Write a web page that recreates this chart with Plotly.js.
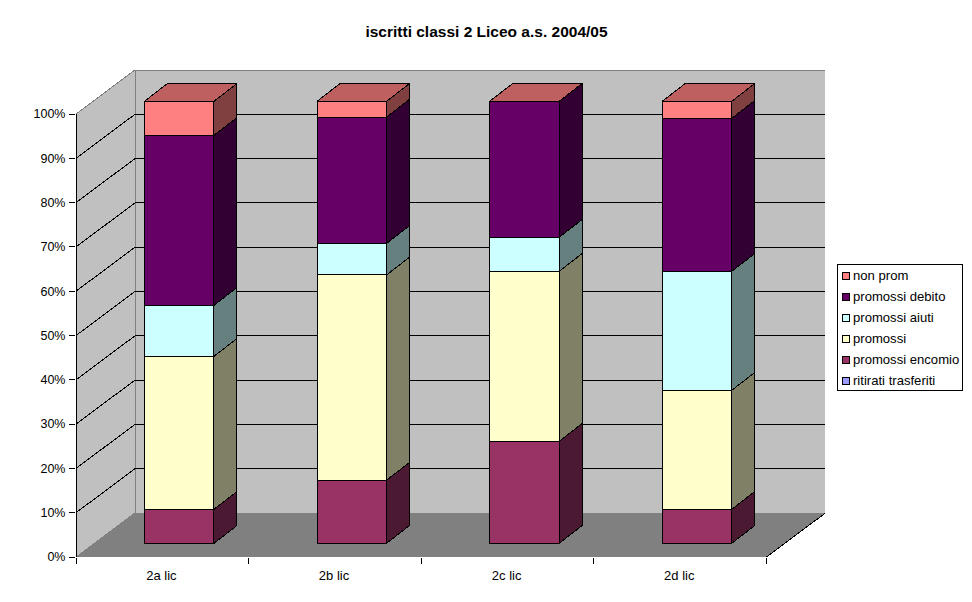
<!DOCTYPE html>
<html><head><meta charset="utf-8">
<script src="https://cdn.plot.ly/plotly-3.0.1.min.js"></script>
<style>html,body{margin:0;padding:0;background:#fff}
#chart .scatterlayer path,#chart .barlayer path,#chart .shapelayer path{shape-rendering:crispEdges}</style></head>
<body><div id="chart" style="width:972px;height:602px"></div>
<script>
const categories = ['2a lic','2b lic','2c lic','2d lic'];
const ritirati = [0,0,0,0];
const encomio  = [2,4,6,2];
const promossi = [9,13,10,7];
const aiuti    = [3,2,2,7];
const debito   = [10,8,8,9];
const nonProm  = [2,1,0,1];
const seriesNames = ['ritirati trasferiti','promossi encomio','promossi','promossi aiuti','promossi debito','non prom'];
const seriesValues = [ritirati,encomio,promossi,aiuti,debito,nonProm];
const frontColors = ['#9999FF','#993366','#FFFFCC','#CCFFFF','#660066','#FF8080'];
const sideColors  = ['#4C4C80','#4C1933','#808066','#668080','#330033','#804040'];
const topColor = '#BF6060';
const pctTicks = [0,10,20,30,40,50,60,70,80,90,100];

// layout frame in pixels
const L=76,T=70,R=825,B=557,W=R-L,H=B-T;
const ux=172.6, uy=4.43;                 // px per category / per percent
const wallDx=59/ux, wallDy=44/uy;        // oblique offset of the back wall
const barDx=23/ux, barDy=17.8/uy;        // oblique depth of a bar
const planeDx=0.098, planeDy=13.7/uy;    // plane of the bars' front faces
const barW=0.403, barScale=442/443;
const xMax=W/ux, yMax=H/uy;
const font='"Liberation Sans",Arial,sans-serif';
const px=x=>(x-L)/W, py=y=>1-(y-T)/H;

const totals=categories.map((_,i)=>seriesValues.reduce((s,v)=>s+v[i],0));
const traces=[];
let cum=categories.map(()=>0);
const pct=(v,i)=>v/totals[i]*100*barScale;
const lefts=categories.map((_,i)=>i+0.5+planeDx-barW/2);
const rights=lefts.map(v=>v+barW);

seriesValues.forEach((vals,s)=>{
  const base=cum.map(c=>c+planeDy);
  const hs=vals.map((v,i)=>pct(v,i));
  traces.push({type:'bar',name:seriesNames[s],x:categories.map((_,i)=>i+0.5+planeDx),y:hs,base:base,width:barW,
    marker:{color:frontColors[s],line:{color:'#000',width:vals.every(v=>v===0)?0:1}},showlegend:false,hoverinfo:'name+y'});
  // side faces
  const sx=[],sy=[];
  vals.forEach((v,i)=>{
    if(v===0) return;
    const r=rights[i],b=base[i],t=base[i]+hs[i];
    sx.push(r,r+barDx,r+barDx,r,r,null);
    sy.push(b,b+barDy,t+barDy,t,b,null);
  });
  traces.push({type:'scatter',mode:'lines',x:sx,y:sy,fill:'toself',fillcolor:sideColors[s],
    line:{color:'#000',width:1},showlegend:false,hoverinfo:'skip'});
  cum=cum.map((c,i)=>c+hs[i]);
});
// top faces
const tx=[],ty=[];
categories.forEach((_,i)=>{
  const l=lefts[i],r=rights[i],t=cum[i]+planeDy;
  tx.push(l,r,r+barDx,l+barDx,l,null);
  ty.push(t,t,t+barDy,t+barDy,t,null);
});
traces.push({type:'scatter',mode:'lines',x:tx,y:ty,fill:'toself',fillcolor:topColor,
  line:{color:'#000',width:1},showlegend:false,hoverinfo:'skip'});
// axis lines
traces.push({type:'scatter',mode:'lines',x:[0,0,null,0,categories.length],y:[0,100,null,0,0],cliponaxis:false,
  line:{color:'#000',width:1},showlegend:false,hoverinfo:'skip'});
// floor's right edge
traces.push({type:'scatter',mode:'lines',x:[categories.length,categories.length+wallDx],y:[0,wallDy],
  line:{color:'#000',width:1},showlegend:false,hoverinfo:'skip'});
// category label carrier
traces.push({type:'scatter',mode:'markers',x:[0.5],y:[0],xaxis:'x2',marker:{opacity:0},showlegend:false,hoverinfo:'skip'});

const n=categories.length;
const poly=p=>'M'+p.map(q=>q.join(' ')).join(' L')+' Z';
const shapes=[
  {type:'path',layer:'below',xref:'x',yref:'y',path:poly([[wallDx,wallDy],[n+wallDx,wallDy],[n+wallDx,100+wallDy],[wallDx,100+wallDy]]),fillcolor:'#C0C0C0',line:{color:'#808080',width:1}},
  {type:'path',layer:'below',xref:'x',yref:'y',path:poly([[0,0],[wallDx,wallDy],[wallDx,100+wallDy],[0,100]]),fillcolor:'#C0C0C0',line:{color:'#808080',width:1}},
  {type:'path',layer:'below',xref:'x',yref:'y',path:poly([[0,0],[wallDx,wallDy],[n+wallDx,wallDy],[n,0]]),fillcolor:'#808080',line:{color:'#808080',width:0}}
];
pctTicks.slice(1,-1).forEach(p=>{
  shapes.push({type:'line',layer:'below',xref:'x',yref:'y',x0:wallDx,x1:n+wallDx,y0:p+wallDy,y1:p+wallDy,line:{color:'#000',width:1}});
  shapes.push({type:'line',layer:'below',xref:'x',yref:'y',x0:0,x1:wallDx,y0:p,y1:p+wallDy,line:{color:'#000',width:1}});
});
// legend box
const legL=837.5,legT=264.5,legR=962.5,legB=390.5,rowH=21;
shapes.push({type:'rect',xref:'paper',yref:'paper',x0:px(legL),x1:px(legR),y0:py(legT),y1:py(legB),fillcolor:'#fff',line:{color:'#000',width:1}});
const annotations=[];
for(let k=0;k<seriesNames.length;k++){
  const s=seriesNames.length-1-k, cy=276+k*rowH;
  shapes.push({type:'rect',xref:'paper',yref:'paper',x0:px(842.5),x1:px(849.5),y0:py(cy-3.5),y1:py(cy+3.5),fillcolor:frontColors[s],line:{color:'#000',width:1}});
  annotations.push({xref:'paper',yref:'paper',x:px(852),y:py(cy-1),xanchor:'left',yanchor:'middle',showarrow:false,align:'left',
    text:seriesNames[s],borderpad:0,font:{family:font,size:13.1,color:'#000'}});
}

Plotly.newPlot('chart',traces,{
  width:972,height:602,autosize:false,
  margin:{l:L,r:972-R,t:T,b:602-B,pad:0},
  paper_bgcolor:'#fff',plot_bgcolor:'#fff',
  showlegend:false,barmode:'overlay',
  title:{text:'<b>iscritti classi 2 Liceo a.s. 2004/05</b>',x:486.5/972,xanchor:'center',xref:'container',y:1-32/602,yanchor:'middle',yref:'container',
    font:{family:font,size:15.5,color:'#000'}},
  xaxis:{range:[0,xMax],tickmode:'array',tickvals:categories.map((_,i)=>i).concat([n]),ticktext:['','','','',''],ticks:'outside',ticklen:6,tickwidth:1,tickcolor:'#000',showgrid:false,zeroline:false,showline:false,fixedrange:true},
  xaxis2:{range:[0,xMax],overlaying:'x',anchor:'y',side:'bottom',tickmode:'array',tickvals:categories.map((_,i)=>i+0.495),ticktext:categories,ticks:'outside',ticklen:6,tickcolor:'rgba(0,0,0,0)',showgrid:false,zeroline:false,showline:false,fixedrange:true,tickfont:{family:font,size:13,color:'#000'}},
  yaxis:{range:[0,yMax],tickmode:'array',tickvals:pctTicks,ticktext:pctTicks.map(v=>v+'%'),ticks:'outside',ticklen:6,tickwidth:1,tickcolor:'#000',ticklabelstandoff:1,showgrid:false,zeroline:false,showline:false,fixedrange:true,tickfont:{family:font,size:12.5,color:'#000'}},
  shapes:shapes,annotations:annotations,hovermode:false
},{displayModeBar:false,staticPlot:true});
</script></body></html>
